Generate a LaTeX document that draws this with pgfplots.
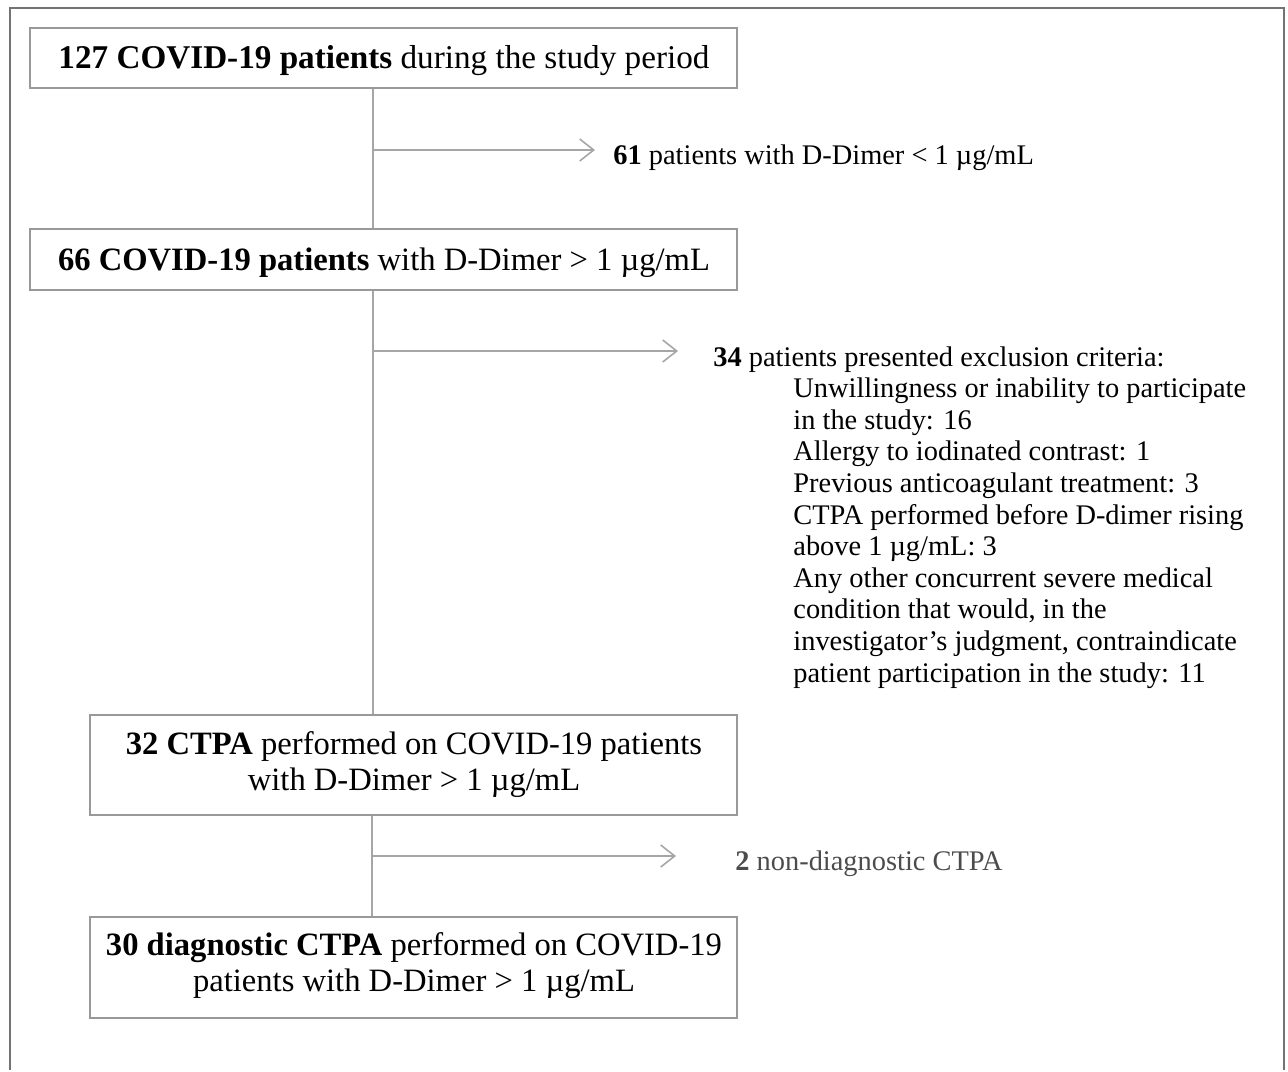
\documentclass[border=0pt]{standalone}
\usepackage{pgfplots}
\pgfplotsset{compat=1.18}
\usepackage{fontspec}
\setmainfont{Liberation Serif}
\usetikzlibrary{arrows.meta}
\begin{document}
\begin{tikzpicture}
\begin{axis}[width=644pt,height=535pt,scale only axis,xmin=0,xmax=1288,ymin=0,ymax=1070,y dir=reverse,axis lines=none,clip=false]
\path (0,0) rectangle (1288,1070);
% outer frame
\draw[black!55, line width=1pt] (10,1070) -- (10,8) -- (1284,8) -- (1284,1070);
% connectors
\draw[black!35, line width=0.8pt] (373,88) -- (373,229);
\draw[black!35, line width=0.8pt] (373,290) -- (373,715);
\draw[black!35, line width=0.8pt] (372,815) -- (372,917);
\draw[black!35, line width=0.8pt, -{Straight Barb[length=7pt,width=11pt]}] (373,150) -- (595,150);
\draw[black!35, line width=0.8pt, -{Straight Barb[length=7pt,width=11pt]}] (373,351) -- (678,351);
\draw[black!35, line width=0.8pt, -{Straight Barb[length=7pt,width=11pt]}] (371,856) -- (676,856);
% boxes
\draw[black!40, line width=1.2pt, fill=white] (30,28) rectangle (737,88);
\draw[black!40, line width=1.2pt, fill=white] (30,229) rectangle (737,290);
\draw[black!40, line width=1.2pt, fill=white] (90,715) rectangle (737,815);
\draw[black!40, line width=1.2pt, fill=white] (90,917) rectangle (737,1018);
% box texts
\begin{scope}[every node/.style={inner sep=0pt, font=\fontsize{16.3}{18}\selectfont}]
\node[anchor=base, font=\fontsize{16.6}{18}\selectfont] at (384,68) {\textbf{127 COVID-19 patients} during the study period};
\node[anchor=base] at (384,270) {\textbf{66 COVID-19 patients} with D-Dimer > 1 µg/mL};
\node[anchor=base] at (414,754) {\textbf{32 CTPA} performed on COVID-19 patients};
\node[anchor=base] at (414,790) {with D-Dimer > 1 µg/mL};
\node[anchor=base] at (414,955) {\textbf{30 diagnostic CTPA} performed on COVID-19};
\node[anchor=base] at (414,991) {patients with D-Dimer > 1 µg/mL};
\end{scope}
% side texts
\begin{scope}[every node/.style={inner sep=0pt, anchor=base west, font=\fontsize{14.2}{16}\selectfont}]
\node at (613,164) {\textbf{61} patients with D-Dimer < 1 µg/mL};
\node at (713,366) {\textbf{34} patients presented exclusion criteria:};
\node at (793,397.6) {Unwillingness or inability to participate};
\node at (793,429.2) {in the study: 16};
\node at (793,460.8) {Allergy to iodinated contrast: 1};
\node at (793,492.4) {Previous anticoagulant treatment: 3};
\node at (793,524.0) {CTPA performed before D-dimer rising};
\node at (793,555.6) {above 1 µg/mL: 3};
\node at (793,587.2) {Any other concurrent severe medical};
\node at (793,618.8) {condition that would, in the};
\node at (793,650.4) {investigator’s judgment, contraindicate};
\node at (793,682.0) {patient participation in the study: 11};
\node[text=black!70] at (735,870) {\textbf{2} non-diagnostic CTPA};
\end{scope}
\end{axis}
\end{tikzpicture}
\end{document}
